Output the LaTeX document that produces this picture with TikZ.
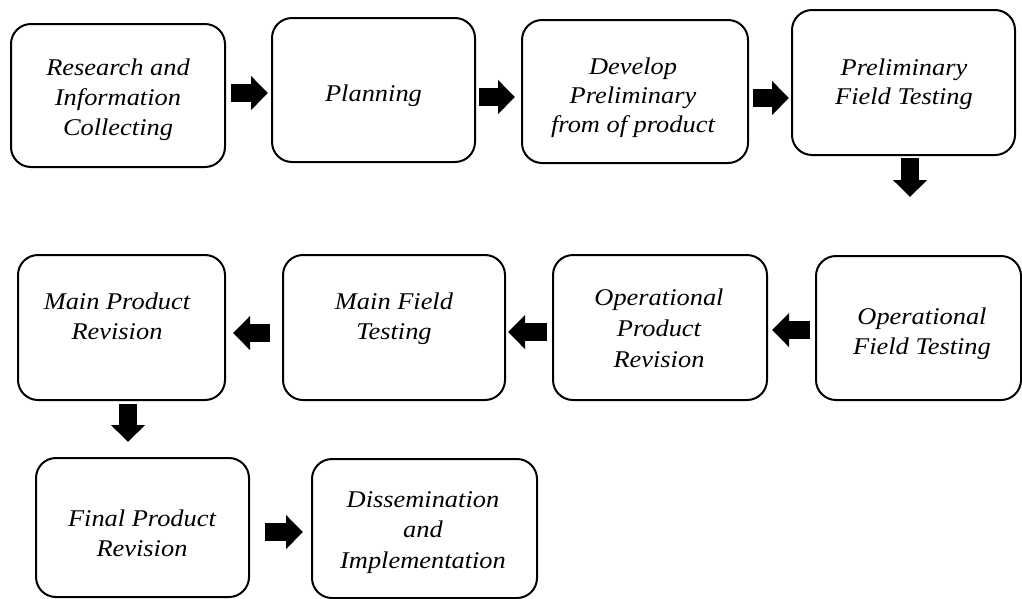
\documentclass[tikz,border=0pt]{standalone}
\usepackage{fontspec}
\setmainfont{Liberation Serif}[FakeStretch=1.1]
\usetikzlibrary{arrows.meta}
\begin{document}
\begin{tikzpicture}[x=1pt,y=-1pt,
  box/.style={draw, line width=2pt, rounded corners=20pt, inner sep=0pt},
  lbl/.style={align=center, inner sep=0pt, font={\fontsize{24}{#1}\selectfont\itshape},
    execute at begin node=\strut, execute at end node=\strut},
  lbl/.default=30,
  barrow/.style={line width=18pt, -{Triangle[width=33pt,length=17pt]}}
]
\useasboundingbox (0,0) rectangle (1022,598);
% boxes
\node[box, minimum width=214pt, minimum height=143pt] (r1) at (118,95.5) {};
\node[box, minimum width=203pt, minimum height=144pt] (r2) at (373.5,90) {};
\node[box, minimum width=226pt, minimum height=143pt] (r3) at (635,91.5) {};
\node[box, minimum width=223pt, minimum height=145pt] (r4) at (903.5,82.5) {};
\node[box, minimum width=205pt, minimum height=144pt] (r5) at (918.5,328) {};
\node[box, minimum width=214pt, minimum height=145pt] (r6) at (660,327.5) {};
\node[box, minimum width=222pt, minimum height=145pt] (r7) at (394,327.5) {};
\node[box, minimum width=207pt, minimum height=145pt] (r8) at (121.5,327.5) {};
\node[box, minimum width=213pt, minimum height=139pt] (r9) at (142.5,527.5) {};
\node[box, minimum width=225pt, minimum height=139pt] (r10) at (424.5,528.5) {};
% labels
\node[lbl] (t1) at (118,101.5) {Research and\\Information\\Collecting};
\node[lbl] (t2) at (373.5,95) {Planning};
\node[lbl=29] (t3) at (633,99.7) {Develop\\Preliminary\\from of product};
\node[lbl=29] (t4) at (904,85.7) {Preliminary\\Field Testing};
\node[lbl] (t5) at (922,336) {Operational\\Field Testing};
\node[lbl=31] (t6) at (659,332.8) {Operational\\Product\\Revision};
\node[lbl] (t7) at (394,321) {Main Field\\Testing};
\node[lbl] (t8) at (117,321) {Main Product\\Revision};
\node[lbl] (t9) at (142,538) {Final Product\\Revision};
\node[lbl=30.5] (t10) at (423,534.4) {Dissemination\\and\\Implementation};
% arrows
\draw[barrow, shorten <=5pt, shorten >=3pt] (r1.east |- 0,93) -- (r2.west |- 0,93);
\draw[barrow, shorten <=2.5pt, shorten >=6pt] (r2.east |- 0,97) -- (r3.west |- 0,97);
\draw[barrow, shorten <=4pt, shorten >=2pt] (r3.east |- 0,98) -- (r4.west |- 0,98);
\draw[barrow, shorten <=2pt, shorten >=58pt] (r4.south -| 910,0) -- (r5.north -| 910,0);
\draw[barrow, shorten <=5pt, shorten >=4pt] (r5.west |- 0,330) -- (r6.east |- 0,330);
\draw[barrow, shorten <=5pt, shorten >=2pt] (r6.west |- 0,332) -- (r7.east |- 0,332);
\draw[barrow, shorten <=12pt, shorten >=7pt] (r7.west |- 0,333) -- (r8.east |- 0,333);
\draw[barrow, shorten <=3pt, shorten >=15pt] (r8.south -| 128,0) -- (r9.north -| 128,0);
\draw[barrow, shorten <=15pt, shorten >=8pt] (r9.east |- 0,532) -- (r10.west |- 0,532);
\end{tikzpicture}
\end{document}
